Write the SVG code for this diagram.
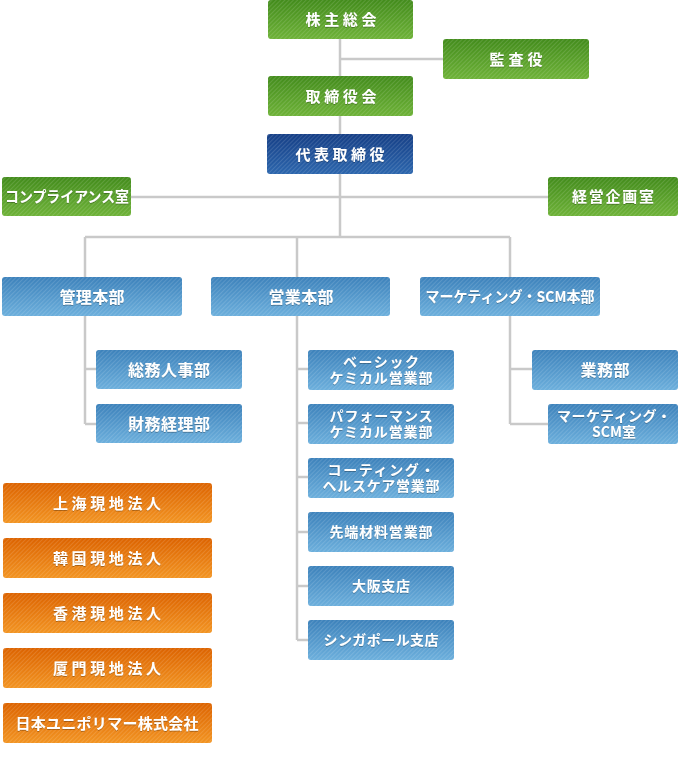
<svg xmlns="http://www.w3.org/2000/svg" width="680" height="765" viewBox="0 0 680 765">
<defs>
<linearGradient id="gGreen" x1="0" y1="0" x2="0" y2="1"><stop offset="0" stop-color="#438c1c"/><stop offset="1" stop-color="#6eb238"/></linearGradient>
<linearGradient id="gDark" x1="0" y1="0" x2="0" y2="1"><stop offset="0" stop-color="#163f86"/><stop offset="1" stop-color="#2c66ad"/></linearGradient>
<linearGradient id="gBlue" x1="0" y1="0" x2="0" y2="1"><stop offset="0" stop-color="#3d82bb"/><stop offset="1" stop-color="#6cafdc"/></linearGradient>
<linearGradient id="gOrange" x1="0" y1="0" x2="0" y2="1"><stop offset="0" stop-color="#dc6300"/><stop offset="1" stop-color="#f29422"/></linearGradient>
<pattern id="hatch" patternUnits="userSpaceOnUse" width="3" height="3" patternTransform="rotate(45)"><line x1="0.5" y1="0" x2="0.5" y2="3" stroke="#ffffff" stroke-opacity="0.13" stroke-width="1"/></pattern>
<filter id="ts" x="-10%" y="-30%" width="120%" height="160%"><feDropShadow dx="0" dy="0.6" stdDeviation="0.6" flood-color="#000" flood-opacity="0.45"/></filter>
</defs>
<style>
.conn line{stroke:#c9c9c9;stroke-width:2.5;fill:none}
.green{fill:url(#gGreen)}
.dark{fill:url(#gDark)}
.blue{fill:url(#gBlue)}
.orange{fill:url(#gOrange)}
.h{fill:url(#hatch)}
text{font-family:"Noto Sans CJK JP","Noto Sans",sans-serif;font-weight:bold;fill:#ffffff;text-anchor:middle;filter:url(#ts)}
.t14{font-size:15px}
.t15{font-size:16px}
.t13{font-size:14px}
</style>
<g class="conn" id="connectors">
<line x1="340" y1="39" x2="340" y2="76"/>
<line x1="340" y1="59" x2="443" y2="59"/>
<line x1="340" y1="116" x2="340" y2="134"/>
<line x1="340" y1="174" x2="340" y2="237"/>
<line x1="131" y1="197" x2="548" y2="197"/>
<line x1="85" y1="237" x2="510" y2="237"/>
<line x1="85" y1="237" x2="85" y2="277"/>
<line x1="297" y1="237" x2="297" y2="277"/>
<line x1="510" y1="237" x2="510" y2="277"/>
<line x1="85" y1="316" x2="85" y2="424"/>
<line x1="85" y1="369" x2="96" y2="369"/>
<line x1="85" y1="424" x2="96" y2="424"/>
<line x1="297" y1="316" x2="297" y2="640"/>
<line x1="297" y1="369" x2="308" y2="369"/>
<line x1="297" y1="423" x2="308" y2="423"/>
<line x1="297" y1="477" x2="308" y2="477"/>
<line x1="297" y1="532" x2="308" y2="532"/>
<line x1="297" y1="586" x2="308" y2="586"/>
<line x1="297" y1="640" x2="308" y2="640"/>
<line x1="510" y1="316" x2="510" y2="424"/>
<line x1="510" y1="369" x2="532" y2="369"/>
<line x1="510" y1="424" x2="548" y2="424"/>
</g>
<g id="kabunushi"><rect class="green" x="268" y="0" width="145" height="39" rx="3"/><rect class="h" x="268" y="0" width="145" height="39" rx="3"/><text class="t14" x="341" y="25" textLength="71" lengthAdjust="spacing">株主総会</text></g>
<g id="kansayaku"><rect class="green" x="443" y="39" width="146" height="40" rx="3"/><rect class="h" x="443" y="39" width="146" height="40" rx="3"/><text class="t14" x="516" y="64.5" textLength="53" lengthAdjust="spacing">監査役</text></g>
<g id="torishimariyakukai"><rect class="green" x="268" y="76" width="145" height="40" rx="3"/><rect class="h" x="268" y="76" width="145" height="40" rx="3"/><text class="t14" x="341" y="101.5" textLength="71" lengthAdjust="spacing">取締役会</text></g>
<g id="daihyo"><rect class="dark" x="267" y="134" width="146" height="40" rx="3"/><rect class="h" x="267" y="134" width="146" height="40" rx="3"/><text class="t14" x="340" y="159.5" textLength="89" lengthAdjust="spacing">代表取締役</text></g>
<g id="compliance"><rect class="green" x="2" y="177" width="129" height="39" rx="3"/><rect class="h" x="2" y="177" width="129" height="39" rx="3"/><text class="t14" x="67" y="202" textLength="124" lengthAdjust="spacingAndGlyphs">コンプライアンス室</text></g>
<g id="keiei"><rect class="green" x="548" y="177" width="130" height="39" rx="3"/><rect class="h" x="548" y="177" width="130" height="39" rx="3"/><text class="t14" x="613" y="202" textLength="82" lengthAdjust="spacing">経営企画室</text></g>
<g id="kanri"><rect class="blue" x="2" y="277" width="180" height="39" rx="3"/><rect class="h" x="2" y="277" width="180" height="39" rx="3"/><text class="t15" x="92" y="302.5" textLength="65" lengthAdjust="spacing">管理本部</text></g>
<g id="eigyo"><rect class="blue" x="211" y="277" width="179" height="39" rx="3"/><rect class="h" x="211" y="277" width="179" height="39" rx="3"/><text class="t15" x="301" y="302.5" textLength="65" lengthAdjust="spacing">営業本部</text></g>
<g id="marketing"><rect class="blue" x="420" y="277" width="180" height="39" rx="3"/><rect class="h" x="420" y="277" width="180" height="39" rx="3"/><text class="t14" x="510" y="302" textLength="169" lengthAdjust="spacingAndGlyphs">マーケティング・SCM本部</text></g>
<g id="somu"><rect class="blue" x="96" y="350" width="146" height="39" rx="3"/><rect class="h" x="96" y="350" width="146" height="39" rx="3"/><text class="t15" x="169" y="375.5" textLength="82" lengthAdjust="spacing">総務人事部</text></g>
<g id="zaimu"><rect class="blue" x="96" y="404" width="146" height="39" rx="3"/><rect class="h" x="96" y="404" width="146" height="39" rx="3"/><text class="t15" x="169" y="429.5" textLength="82" lengthAdjust="spacing">財務経理部</text></g>
<g id="basic"><rect class="blue" x="308" y="350" width="146" height="40" rx="3"/><rect class="h" x="308" y="350" width="146" height="40" rx="3"/><text class="t13" x="381" y="367" textLength="76" lengthAdjust="spacing">ベーシック</text><text class="t13" x="381" y="383" textLength="103" lengthAdjust="spacing">ケミカル営業部</text></g>
<g id="performance"><rect class="blue" x="308" y="404" width="146" height="40" rx="3"/><rect class="h" x="308" y="404" width="146" height="40" rx="3"/><text class="t13" x="381" y="421" textLength="103" lengthAdjust="spacing">パフォーマンス</text><text class="t13" x="381" y="437" textLength="103" lengthAdjust="spacing">ケミカル営業部</text></g>
<g id="coating"><rect class="blue" x="308" y="458" width="146" height="40" rx="3"/><rect class="h" x="308" y="458" width="146" height="40" rx="3"/><text class="t13" x="381" y="475" textLength="107" lengthAdjust="spacing">コーティング・</text><text class="t13" x="381" y="491" textLength="117" lengthAdjust="spacing">ヘルスケア営業部</text></g>
<g id="sentan"><rect class="blue" x="308" y="512" width="146" height="40" rx="3"/><rect class="h" x="308" y="512" width="146" height="40" rx="3"/><text class="t13" x="381" y="537" textLength="103" lengthAdjust="spacing">先端材料営業部</text></g>
<g id="osaka"><rect class="blue" x="308" y="566" width="146" height="40" rx="3"/><rect class="h" x="308" y="566" width="146" height="40" rx="3"/><text class="t13" x="381" y="591" textLength="58" lengthAdjust="spacing">大阪支店</text></g>
<g id="singapore"><rect class="blue" x="308" y="620" width="146" height="40" rx="3"/><rect class="h" x="308" y="620" width="146" height="40" rx="3"/><text class="t13" x="381" y="645" textLength="115" lengthAdjust="spacing">シンガポール支店</text></g>
<g id="gyomu"><rect class="blue" x="532" y="350" width="146" height="40" rx="3"/><rect class="h" x="532" y="350" width="146" height="40" rx="3"/><text class="t15" x="605" y="375.5" textLength="49" lengthAdjust="spacing">業務部</text></g>
<g id="scm"><rect class="blue" x="548" y="404" width="130" height="40" rx="3"/><rect class="h" x="548" y="404" width="130" height="40" rx="3"/><text class="t13" x="614" y="421" textLength="114" lengthAdjust="spacing">マーケティング・</text><text class="t13" x="614" y="437">SCM室</text></g>
<g id="shanghai"><rect class="orange" x="3" y="483" width="209" height="40" rx="3"/><rect class="h" x="3" y="483" width="209" height="40" rx="3"/><text class="t14" x="107" y="508.5" textLength="108" lengthAdjust="spacing">上海現地法人</text></g>
<g id="korea"><rect class="orange" x="3" y="538" width="209" height="40" rx="3"/><rect class="h" x="3" y="538" width="209" height="40" rx="3"/><text class="t14" x="107" y="563.5" textLength="108" lengthAdjust="spacing">韓国現地法人</text></g>
<g id="hongkong"><rect class="orange" x="3" y="593" width="209" height="40" rx="3"/><rect class="h" x="3" y="593" width="209" height="40" rx="3"/><text class="t14" x="107" y="618.5" textLength="108" lengthAdjust="spacing">香港現地法人</text></g>
<g id="xiamen"><rect class="orange" x="3" y="648" width="209" height="40" rx="3"/><rect class="h" x="3" y="648" width="209" height="40" rx="3"/><text class="t14" x="107" y="673.5" textLength="108" lengthAdjust="spacing">厦門現地法人</text></g>
<g id="unipolymer"><rect class="orange" x="3" y="703" width="209" height="40" rx="3"/><rect class="h" x="3" y="703" width="209" height="40" rx="3"/><text class="t14" x="107" y="728.5" textLength="183" lengthAdjust="spacing">日本ユニポリマー株式会社</text></g>
</svg>
